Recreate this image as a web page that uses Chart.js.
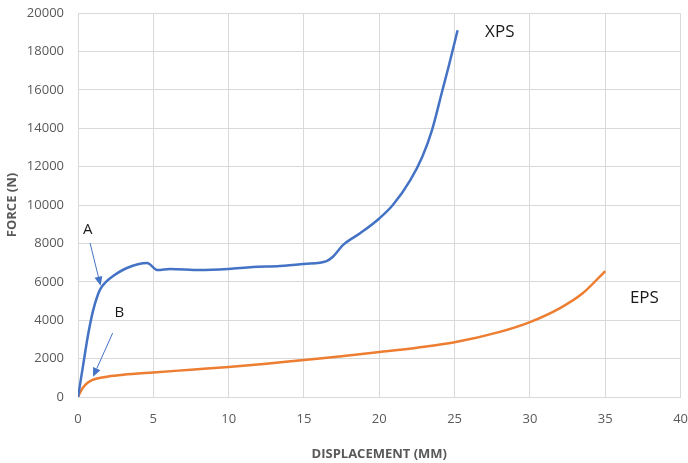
<!DOCTYPE html>
<html>
<head>
<meta charset="utf-8">
<script src="https://cdn.jsdelivr.net/npm/chart.js@4/dist/chart.umd.min.js"></script>
<style>
  html, body { margin: 0; padding: 0; background: #fff; }
  #wrap { width: 688px; height: 463px; }
</style>
</head>
<body>
<div id="wrap"><canvas id="forceChart"></canvas></div>
<script>
// Data (displacement in mm, force in N)
const xpsX = [0, 0.33, 0.66, 1.0, 1.33, 1.5, 1.8, 2.33, 3.25, 4.58, 5.3, 6.1, 8.1, 10, 11.6, 13.4, 15, 16.5, 16.9, 17.6, 18.75, 20, 20.9, 22.06, 22.85, 23.5, 24.2, 24.6, 25.2];
const xpsY = [0, 1600, 3200, 4500, 5350, 5650, 5950, 6300, 6720, 6980, 6610, 6670, 6610, 6670, 6770, 6820, 6930, 7080, 7290, 7920, 8540, 9300, 10000, 11300, 12500, 13900, 16000, 17200, 19100];

const epsX = [0, 0.25, 0.5, 0.8, 1.2, 2, 3, 5, 7.5, 10, 12.5, 15, 17.5, 20, 22.5, 25, 28, 30, 32, 33.5, 35];
const epsY = [0, 400, 650, 830, 950, 1070, 1160, 1280, 1420, 1560, 1730, 1930, 2120, 2340, 2570, 2850, 3390, 3900, 4630, 5400, 6560];

const xTicks = [0, 5, 10, 15, 20, 25, 30, 35, 40];
const yTicks = [0, 2000, 4000, 6000, 8000, 10000, 12000, 14000, 16000, 18000, 20000];

// text labels and arrows, in data units
const labels = [
  { text: 'XPS', x: 28, y: 19000, size: 17 },
  { text: 'EPS', x: 37.6, y: 5150, size: 17 },
  { text: 'A', x: 0.65, y: 8700, size: 15 },
  { text: 'B', x: 2.75, y: 4400, size: 15 }
];
const arrows = [
  { x1: 0.8, y1: 8020, x2: 1.5, y2: 5800 },
  { x1: 2.3, y1: 3330, x2: 1.0, y2: 1050 }
];

const toPoints = (xs, ys) => xs.map((x, i) => ({ x: x, y: ys[i] }));

const labelPlugin = {
  id: 'labelPlugin',
  afterDatasetsDraw(chart) {
    const ctx = chart.ctx;
    const sx = chart.scales.x, sy = chart.scales.y;
    ctx.save();
    ctx.fillStyle = '#1a1a1a';
    ctx.textAlign = 'center';
    ctx.textBaseline = 'middle';
    labels.forEach(l => {
      ctx.font = l.size + 'px "Open Sans", sans-serif';
      ctx.fillText(l.text, sx.getPixelForValue(l.x), sy.getPixelForValue(l.y));
    });
    // arrows
    ctx.strokeStyle = '#4472C4';
    ctx.fillStyle = '#4472C4';
    ctx.lineWidth = 1;
    arrows.forEach(a => {
      const x1 = sx.getPixelForValue(a.x1), y1 = sy.getPixelForValue(a.y1);
      const x2 = sx.getPixelForValue(a.x2), y2 = sy.getPixelForValue(a.y2);
      const ang = Math.atan2(y2 - y1, x2 - x1);
      const hl = 9, hw = 4;
      const bx = x2 - hl * Math.cos(ang), by = y2 - hl * Math.sin(ang);
      ctx.beginPath();
      ctx.moveTo(x1, y1);
      ctx.lineTo(bx, by);
      ctx.stroke();
      ctx.beginPath();
      ctx.moveTo(x2, y2);
      ctx.lineTo(bx + hw * Math.sin(ang), by - hw * Math.cos(ang));
      ctx.lineTo(bx - hw * Math.sin(ang), by + hw * Math.cos(ang));
      ctx.closePath();
      ctx.fill();
    });
    ctx.restore();
  }
};

const ctx = document.getElementById('forceChart').getContext('2d');
const chart = new Chart(ctx, {
  type: 'scatter',
  data: {
    datasets: [
      {
        label: 'XPS',
        data: toPoints(xpsX, xpsY),
        showLine: true,
        borderColor: '#4472C4',
        borderWidth: 2.5,
        pointRadius: 0,
        cubicInterpolationMode: 'monotone'
      },
      {
        label: 'EPS',
        data: toPoints(epsX, epsY),
        showLine: true,
        borderColor: '#ED7D31',
        borderWidth: 2.5,
        pointRadius: 0,
        cubicInterpolationMode: 'monotone'
      }
    ]
  },
  options: {
    responsive: true,
    maintainAspectRatio: false,
    animation: false,
    layout: { padding: { top: 13, right: 0, left: 0, bottom: 0 } },
    plugins: {
      legend: { display: false },
      tooltip: { enabled: false }
    },
    scales: {
      x: {
        type: 'linear',
        min: 0,
        max: 40,
        afterBuildTicks: axis => { axis.ticks = xTicks.map(v => ({ value: v })); },
        afterFit: axis => { axis.height = 66; },
        // invisible tick marks give the label gap without widening the layout padding
        grid: { color: '#d9d9d9', lineWidth: 1, drawTicks: true, tickLength: 14, tickColor: 'rgba(0,0,0,0)' },
        border: { color: '#d9d9d9' },
        ticks: {
          color: '#595959',
          padding: 0,
          callback: v => String(v),
          font: { family: '"Open Sans", sans-serif', size: 13 }
        },
        title: {
          display: true,
          text: 'DISPLACEMENT (MM)',
          color: '#595959',
          padding: { top: 0, bottom: 1 },
          font: { family: '"Open Sans", sans-serif', size: 13, weight: 'bold' }
        }
      },
      y: {
        type: 'linear',
        min: 0,
        max: 20000,
        afterBuildTicks: axis => { axis.ticks = yTicks.map(v => ({ value: v })); },
        afterFit: axis => { axis.width = 78; },
        grid: { color: '#d9d9d9', lineWidth: 1, drawTicks: true, tickLength: 14, tickColor: 'rgba(0,0,0,0)' },
        border: { color: '#d9d9d9' },
        ticks: {
          color: '#595959',
          padding: 0,
          callback: v => String(v),
          font: { family: '"Open Sans", sans-serif', size: 13 }
        },
        title: {
          display: true,
          text: 'FORCE (N)',
          color: '#595959',
          padding: { bottom: 2 },
          font: { family: '"Open Sans", sans-serif', size: 13, weight: 'bold' }
        }
      }
    }
  },
  plugins: [labelPlugin]
});
</script>
</body>
</html>
